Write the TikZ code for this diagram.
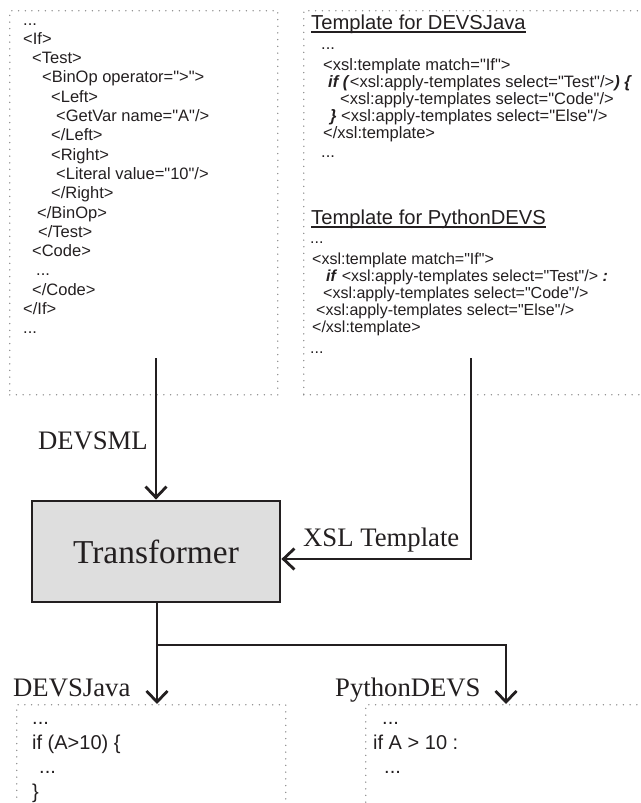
\documentclass[tikz,border=0pt]{standalone}
\usepackage{fontspec}
\setmainfont{Liberation Serif}
\newfontfamily\codefont{Liberation Sans}
\usetikzlibrary{arrows.meta}
\definecolor{ink}{HTML}{231F20}
\definecolor{dotgray}{HTML}{8A8A8A}
\definecolor{boxfill}{HTML}{DEDEDE}
\newcommand\bi[1]{\textbf{\textit{#1}}}
\begin{document}
\begin{tikzpicture}[x=1pt,y=-1pt,
  dotbox/.style={draw=dotgray, line width=1.5pt, dash pattern=on 0pt off 6.7pt, line cap=round, inner sep=0pt, anchor=north west},
  flow/.style={draw=ink, line width=2.8pt},
  flowarrow/.style={flow, -{Straight Barb[length=11pt,width=21pt]}},
  lcode/.style={font=\codefont\fontsize{16.5}{19}\selectfont, text=ink, inner sep=0pt, anchor=base west},
  rcode/.style={font=\codefont\fontsize{16.5}{18}\selectfont, text=ink, inner sep=0pt, anchor=base west},
  rcodeb/.style={font=\codefont\fontsize{16}{18}\selectfont, text=ink, inner sep=0pt, anchor=base west},
  bcode/.style={font=\codefont\fontsize{20}{22}\selectfont, text=ink, inner sep=0pt, anchor=base west},
  tpltitle/.style={font=\codefont\fontsize{20.2}{22}\selectfont, text=ink, inner sep=0pt, anchor=base west},
  flowlabel/.style={font=\fontsize{26.7}{30}\selectfont, text=ink, inner sep=0pt},
  transbox/.style={draw=ink, line width=2.8pt, fill=boxfill, minimum width=248pt, minimum height=101pt, inner sep=0pt, font=\fontsize{33.4}{36}\selectfont, text=ink}
]
\useasboundingbox (0,0) rectangle (640,803);

% ---- source box (DEVSML) ----
\node[dotbox, minimum width=268pt, minimum height=384pt] (srcbox) at (9,10) {};
\node[lcode] (s1)  at (23,25)    {...};
\node[lcode] (s2)  at (23,44.3)  {<If>};
\node[lcode] (s3)  at (32,63.6)  {<Test>};
\node[lcode] (s4)  at (42,82.9)  {<BinOp operator=">">};
\node[lcode] (s5)  at (51,102.2) {<Left>};
\node[lcode] (s6)  at (56,121.5) {<GetVar name="A"/>};
\node[lcode] (s7)  at (51,140.8) {</Left>};
\node[lcode] (s8)  at (51,160.1) {<Right>};
\node[lcode] (s9)  at (56,179.4) {<Literal value="10"/>};
\node[lcode] (s10) at (51,198.7) {</Right>};
\node[lcode] (s11) at (37,218)   {</BinOp>};
\node[lcode] (s12) at (38,237.3) {</Test>};
\node[lcode] (s13) at (32,256.6) {<Code>};
\node[lcode] (s14) at (36,275.9) {...};
\node[lcode] (s15) at (32,295.2) {</Code>};
\node[lcode] (s16) at (23,314.5) {</If>};
\node[lcode] (s17) at (23,333.8) {...};

% ---- template box ----
\node[dotbox, minimum width=360pt, minimum height=384pt] (tplbox) at (303,10) {};
\node[tpltitle] (ta) at (311,29) {Template for DEVSJava};
\draw[draw=ink, line width=1.1pt] ([yshift=-3pt]ta.base west) -- ([yshift=-3pt]ta.base east);
\node[rcode] (a1) at (321,49)  {...};
\node[rcode] (a2) at (323,70)  {<xsl:template match="If">};
\node[rcode] (a3) at (328,87)  {\bi{if (}<xsl:apply-templates select="Test"/>\bi{) \{}};
\node[rcode] (a4) at (340,104) {<xsl:apply-templates select="Code"/>};
\node[rcode] (a5) at (330,121) {\bi{\}} <xsl:apply-templates select="Else"/>};
\node[rcode] (a6) at (323,138) {</xsl:template>};
\node[rcode] (a7) at (321,157) {...};

\node[tpltitle] (tb) at (311,224) {Template for PythonDEVS};
\draw[draw=ink, line width=1.1pt] ([yshift=-3pt]tb.base west) -- ([yshift=-3pt]tb.base east);
\node[rcodeb] (b1) at (310,243) {...};
\node[rcodeb] (b2) at (312,264) {<xsl:template match="If">};
\node[rcodeb] (b3) at (326,281) {\bi{if} <xsl:apply-templates select="Test"/> \bi{:}};
\node[rcodeb] (b4) at (323,298) {<xsl:apply-templates select="Code"/>};
\node[rcodeb] (b5) at (316,315) {<xsl:apply-templates select="Else"/>};
\node[rcodeb] (b6) at (312,332) {</xsl:template>};
\node[rcodeb] (b7) at (310,353) {...};

% ---- transformer ----
\node[transbox] (trans) at (156,551.5) {Transformer};

% ---- output boxes ----
\node[dotbox, minimum width=269pt, minimum height=120pt] (javabox) at (16,704) {};
\node[bcode] (j1) at (32,724) {...};
\node[bcode] (j2) at (32,749) {if (A>10) \{};
\node[bcode] (j3) at (39,773) {...};
\node[bcode] (j4) at (32,798) {\}};

\node[dotbox, minimum width=300pt, minimum height=120pt] (pybox) at (365,704) {};
\node[bcode] (p1) at (382,724) {...};
\node[bcode] (p2) at (373,749) {if A > 10 :};
\node[bcode] (p3) at (384,773) {...};

% ---- connectors ----
\coordinate (srcout) at (156,358);
\coordinate (tplout) at (471,358);
\coordinate (split) at (157,645);
\coordinate (javain) at (157,704);
\coordinate (pyin) at (506,704);

\draw[flowarrow] (srcout) -- (trans.north);
\draw[flowarrow] (tplout) |- ([yshift=-7.5pt]trans.east);
\draw[flow] (trans.south -| split) -- (split);
\draw[flowarrow] (split) -- (javain);
\draw[flowarrow] (split) -| (pyin);

% ---- labels ----
\node[flowlabel, anchor=base east] (lml) at (148,449) {DEVSML};
\node[flowlabel, anchor=base west] (lxsl) at (303,546) {XSL Template};
\node[flowlabel, anchor=base west] (ljava) at (13,696) {DEVSJava};
\node[flowlabel, anchor=base west] (lpy) at (335,696) {PythonDEVS};
\end{tikzpicture}
\end{document}
